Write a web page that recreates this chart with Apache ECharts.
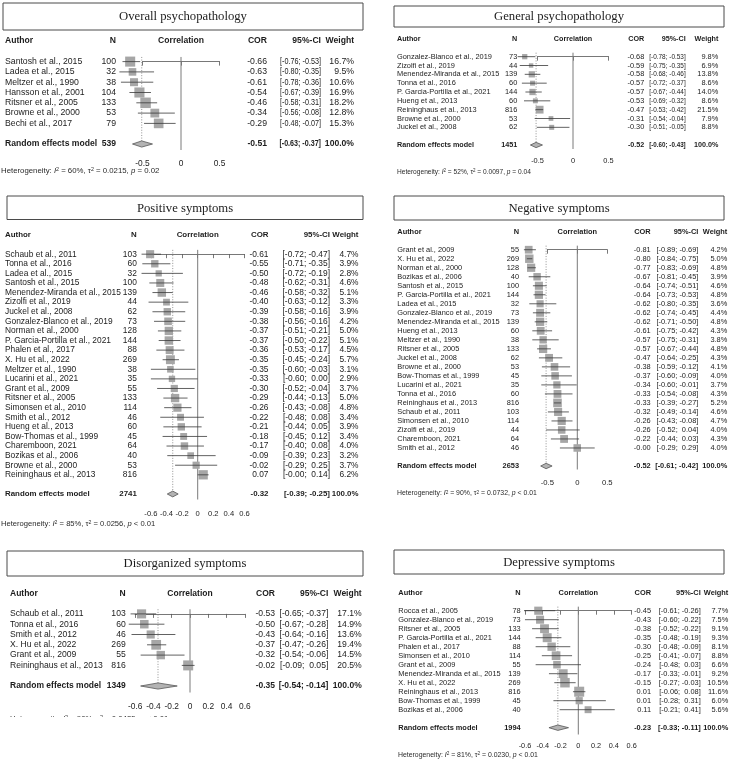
<!DOCTYPE html>
<html>
<head>
<meta charset="utf-8">
<script src="https://cdn.jsdelivr.net/npm/echarts@6.0.0/dist/echarts.min.js"></script>
<style>
  html, body { margin: 0; background: #fff; }
  #chart { width: 730px; height: 761px; }
</style>
</head>
<body>
<div id="chart"></div>
<script>
// tick labels
var ticksHalf = [-0.5, 0, 0.5];
var ticksFine = [-0.6, -0.4, -0.2, 0, 0.2, 0.4, 0.6];

// Overall psychopathology
var overallAuthors = ['Santosh et al., 2015', 'Ladea et al., 2015', 'Meltzer et al., 1990', 'Hansson et al., 2001',
  'Ritsner et al., 2005', 'Browne et al., 2000', 'Bechi et al., 2017'];
var overallN = [100, 32, 38, 104, 133, 53, 79];
var overallCor = [-0.66, -0.63, -0.61, -0.54, -0.46, -0.34, -0.29];
var overallLo = [-0.76, -0.80, -0.78, -0.67, -0.58, -0.56, -0.48];
var overallHi = [-0.53, -0.35, -0.36, -0.39, -0.31, -0.08, -0.07];
var overallWeight = [16.7, 9.5, 10.6, 16.9, 18.2, 12.8, 15.3];
var overallPooled = [539, -0.51, -0.63, -0.37];
var overallHet = ['60%', '0.0215', '= 0.02'];

// General psychopathology
var generalAuthors = ['Gonzalez-Blanco et al., 2019', 'Zizolfi et al., 2019', 'Menendez-Miranda et al., 2015',
  'Tonna et al., 2016', 'P. Garcia-Portilla et al., 2021', 'Hueng et al., 2013', 'Reininghaus et al., 2013',
  'Browne et al., 2000', 'Juckel et al., 2008'];
var generalN = [73, 44, 139, 60, 144, 60, 816, 53, 62];
var generalCor = [-0.68, -0.59, -0.58, -0.57, -0.57, -0.53, -0.47, -0.31, -0.30];
var generalLo = [-0.78, -0.75, -0.68, -0.72, -0.67, -0.69, -0.53, -0.54, -0.51];
var generalHi = [-0.53, -0.35, -0.46, -0.37, -0.44, -0.32, -0.42, -0.04, -0.05];
var generalWeight = [9.8, 6.9, 13.8, 8.6, 14.0, 8.6, 21.5, 7.9, 8.8];
var generalPooled = [1451, -0.52, -0.60, -0.43];
var generalHet = ['52%', '0.0097', '= 0.04'];

// Positive symptoms
var positiveAuthors = ['Schaub et al., 2011', 'Tonna et al., 2016', 'Ladea et al., 2015', 'Santosh et al., 2015',
  'Menendez-Miranda et al., 2015', 'Zizolfi et al., 2019', 'Juckel et al., 2008', 'Gonzalez-Blanco et al., 2019',
  'Norman et al., 2000', 'P. Garcia-Portilla et al., 2021', 'Phalen et al., 2017', 'X. Hu et al., 2022',
  'Meltzer et al., 1990', 'Lucarini et al., 2021', 'Grant et al., 2009', 'Ritsner et al., 2005',
  'Simonsen et al., 2010', 'Smith et al., 2012', 'Hueng et al., 2013', 'Bow-Thomas et al., 1999',
  'Charemboon, 2021', 'Bozikas et al., 2006', 'Browne et al., 2000', 'Reininghaus et al., 2013'];
var positiveN = [103, 60, 32, 100, 139, 44, 62, 73, 128, 144, 88, 269, 38, 35, 55, 133, 114, 46, 60, 45, 64, 40, 53, 816];
var positiveCor = [-0.61, -0.55, -0.50, -0.48, -0.46, -0.40, -0.39, -0.38, -0.37, -0.37, -0.36, -0.35,
  -0.35, -0.33, -0.30, -0.29, -0.26, -0.22, -0.21, -0.18, -0.17, -0.09, -0.02, 0.07];
var positiveLo = [-0.72, -0.71, -0.72, -0.62, -0.58, -0.63, -0.58, -0.56, -0.51, -0.50, -0.53, -0.45,
  -0.60, -0.60, -0.52, -0.44, -0.43, -0.48, -0.44, -0.45, -0.40, -0.39, -0.29, -0.001];
var positiveHi = [-0.47, -0.35, -0.19, -0.31, -0.32, -0.12, -0.16, -0.16, -0.21, -0.22, -0.17, -0.24,
  -0.03, 0.00, -0.04, -0.13, -0.08, 0.08, 0.05, 0.12, 0.08, 0.23, 0.25, 0.14];
var positiveWeight = [4.7, 3.9, 2.8, 4.6, 5.1, 3.3, 3.9, 4.2, 5.0, 5.1, 4.5, 5.7,
  3.1, 2.9, 3.7, 5.0, 4.8, 3.4, 3.9, 3.4, 4.0, 3.2, 3.7, 6.2];
var positivePooled = [2741, -0.32, -0.39, -0.25];
var positiveHet = ['85%', '0.0256', '< 0.01'];

// Negative symptoms
var negativeAuthors = ['Grant et al., 2009', 'X. Hu et al., 2022', 'Norman et al., 2000', 'Bozikas et al., 2006',
  'Santosh et al., 2015', 'P. Garcia-Portilla et al., 2021', 'Ladea et al., 2015', 'Gonzalez-Blanco et al., 2019',
  'Menendez-Miranda et al., 2015', 'Hueng et al., 2013', 'Meltzer et al., 1990', 'Ritsner et al., 2005',
  'Juckel et al., 2008', 'Browne et al., 2000', 'Bow-Thomas et al., 1999', 'Lucarini et al., 2021',
  'Tonna et al., 2016', 'Reininghaus et al., 2013', 'Schaub et al., 2011', 'Simonsen et al., 2010',
  'Zizolfi et al., 2019', 'Charemboon, 2021', 'Smith et al., 2012'];
var negativeN = [55, 269, 128, 40, 100, 144, 32, 73, 139, 60, 38, 133, 62, 53, 45, 35, 60, 816, 103, 114, 44, 64, 46];
var negativeCor = [-0.81, -0.80, -0.77, -0.67, -0.64, -0.64, -0.62, -0.62, -0.62, -0.61, -0.57, -0.57,
  -0.47, -0.38, -0.37, -0.34, -0.33, -0.33, -0.32, -0.26, -0.26, -0.22, -0.001];
var negativeLo = [-0.89, -0.84, -0.83, -0.81, -0.74, -0.73, -0.80, -0.74, -0.71, -0.75, -0.75, -0.67,
  -0.64, -0.59, -0.60, -0.60, -0.54, -0.39, -0.49, -0.43, -0.52, -0.44, -0.29];
var negativeHi = [-0.69, -0.75, -0.69, -0.45, -0.51, -0.53, -0.35, -0.45, -0.50, -0.42, -0.31, -0.44,
  -0.25, -0.12, -0.09, -0.01, -0.08, -0.27, -0.14, -0.08, 0.04, 0.03, 0.29];
var negativeWeight = [4.2, 5.0, 4.8, 3.9, 4.6, 4.8, 3.6, 4.4, 4.8, 4.3, 3.8, 4.8,
  4.3, 4.1, 4.0, 3.7, 4.3, 5.2, 4.6, 4.7, 4.0, 4.3, 4.0];
var negativePooled = [2653, -0.52, -0.61, -0.42];
var negativeHet = ['90%', '0.0732', '< 0.01'];

// Disorganized symptoms
var disorgAuthors = ['Schaub et al., 2011', 'Tonna et al., 2016', 'Smith et al., 2012', 'X. Hu et al., 2022',
  'Grant et al., 2009', 'Reininghaus et al., 2013'];
var disorgN = [103, 60, 46, 269, 55, 816];
var disorgCor = [-0.53, -0.50, -0.43, -0.37, -0.32, -0.02];
var disorgLo = [-0.65, -0.67, -0.64, -0.47, -0.54, -0.09];
var disorgHi = [-0.37, -0.28, -0.16, -0.26, -0.06, 0.05];
var disorgWeight = [17.1, 14.9, 13.6, 19.4, 14.5, 20.5];
var disorgPooled = [1349, -0.35, -0.54, -0.14];
var disorgHet = ['90%', '0.0435', '< 0.01'];

// Depressive symptoms
var depressAuthors = ['Rocca et al., 2005', 'Gonzalez-Blanco et al., 2019', 'Ritsner et al., 2005',
  'P. Garcia-Portilla et al., 2021', 'Phalen et al., 2017', 'Simonsen et al., 2010', 'Grant et al., 2009',
  'Menendez-Miranda et al., 2015', 'X. Hu et al., 2022', 'Reininghaus et al., 2013', 'Bow-Thomas et al., 1999',
  'Bozikas et al., 2006'];
var depressN = [78, 73, 133, 144, 88, 114, 55, 139, 269, 816, 45, 40];
var depressCor = [-0.45, -0.43, -0.38, -0.35, -0.30, -0.25, -0.24, -0.17, -0.15, 0.01, 0.01, 0.11];
var depressLo = [-0.61, -0.60, -0.52, -0.48, -0.48, -0.41, -0.48, -0.33, -0.27, -0.06, -0.28, -0.21];
var depressHi = [-0.26, -0.22, -0.22, -0.19, -0.09, -0.07, 0.03, -0.01, -0.03, 0.08, 0.31, 0.41];
var depressWeight = [7.7, 7.5, 9.1, 9.3, 8.1, 8.8, 6.6, 9.2, 10.5, 11.6, 6.0, 5.6];
var depressPooled = [1994, -0.23, -0.33, -0.11];
var depressHet = ['81%', '0.0230', '< 0.01'];

var FONT = '"Liberation Sans", Arial, sans-serif';
var SERIF = '"Liberation Serif", "Times New Roman", serif';
var INK = '#1c1c1c';
var SQUARE = '#a6a6a6';
var LINE = '#3a3a3a';

// layout of each panel (pixels)
var panels = [
  { title: 'Overall psychopathology', authors: overallAuthors, n: overallN, cor: overallCor, lo: overallLo,
    hi: overallHi, w: overallWeight, pooled: overallPooled, het: overallHet,
    box: [3, 3, 363, 30], headerY: 41, reY: 144, axisY: 150, x0: 181, ppu: 77, ticks: ticksHalf,
    cols: [5, 116, 267, 321, 354], font: 8.7, hfont: 8.6, ciScale: 0.83,
    tickFont: 8.4, tickMargin: 9.5, sq: 10.5, hetPos: [1, 171, 7.8] },
  { title: 'General psychopathology', authors: generalAuthors, n: generalN, cor: generalCor, lo: generalLo,
    hi: generalHi, w: generalWeight, pooled: generalPooled, het: generalHet,
    box: [394, 6, 724, 27], headerY: 39, reY: 145, axisY: 149, x0: 573, ppu: 71, ticks: ticksHalf,
    cols: [397, 517.3, 644.3, 685.7, 718.3], font: 7.4, hfont: 7.2, ciScale: 0.87,
    tickFont: 7.4, tickMargin: 8, sq: 7.8, hetPos: [397, 172, 6.6] },
  { title: 'Positive symptoms', authors: positiveAuthors, n: positiveN, cor: positiveCor, lo: positiveLo,
    hi: positiveHi, w: positiveWeight, pooled: positivePooled, het: positiveHet,
    box: [7, 196, 363, 219.5], headerY: 235, reY: 494, axisY: 499.5, x0: 197.7, ppu: 78, ticks: ticksFine,
    cols: [5, 136.8, 268.5, 330, 358.5], font: 8.4, hfont: 7.9, ciScale: 1,
    tickFont: 7.6, tickMargin: 10.5, sq: 9.3, hetPos: [1, 524, 7.6] },
  { title: 'Negative symptoms', authors: negativeAuthors, n: negativeN, cor: negativeCor, lo: negativeLo,
    hi: negativeHi, w: negativeWeight, pooled: negativePooled, het: negativeHet,
    box: [394, 196, 724, 220], headerY: 231.7, reY: 466, axisY: 469.5, x0: 577.3, ppu: 60, ticks: ticksHalf,
    cols: [397.3, 519, 650.7, 698.3, 727.3], font: 7.4, hfont: 7.4, ciScale: 1,
    tickFont: 7.7, tickMargin: 9.5, sq: 8.6, hetPos: [397, 493.3, 6.9] },
  { title: 'Disorganized symptoms', authors: disorgAuthors, n: disorgN, cor: disorgCor, lo: disorgLo,
    hi: disorgHi, w: disorgWeight, pooled: disorgPooled, het: disorgHet,
    box: [7, 551, 363, 576], headerY: 593.3, reY: 686, axisY: 692.5, x0: 190, ppu: 91.4, ticks: ticksFine,
    cols: [10, 125.7, 275, 328.3, 361.7], font: 8.6, hfont: 8.5, ciScale: 1,
    tickFont: 8.4, tickMargin: 9.8, sq: 10, hetPos: [10, 719, 7.8] },
  { title: 'Depressive symptoms', authors: depressAuthors, n: depressN, cor: depressCor, lo: depressLo,
    hi: depressHi, w: depressWeight, pooled: depressPooled, het: depressHet,
    box: [394, 550, 724, 574], headerY: 592.7, reY: 727.7, axisY: 734.5, x0: 578.3, ppu: 88.9, ticks: ticksFine,
    cols: [398.3, 520.7, 651, 700.7, 728.3], font: 7.4, hfont: 7.4, ciScale: 1,
    tickFont: 7.3, tickMargin: 7.8, sq: 10, hetPos: [398, 755, 6.9] }
];

function fmt(v) { return v.toFixed(2); }
function ciText(lo, hi) { return '[' + fmt(lo) + '; ' + (hi >= 0 ? ' ' : '') + fmt(hi) + ']'; }

function txt(s, x, y, align, bold, size, sx) {
  return {
    type: 'text', x: x, y: y, scaleX: sx || 1,
    style: {
      text: s, x: 0, y: 0, fill: INK, fontSize: size, fontFamily: FONT,
      fontWeight: bold ? 'bold' : 'normal',
      textAlign: align, align: align, textVerticalAlign: 'middle', verticalAlign: 'middle'
    }
  };
}

var grids = [], xAxes = [], yAxes = [], series = [], graphics = [];

panels.forEach(function (p, gi) {
  var nStudies = p.authors.length;
  var reRow = nStudies + 1;
  var rowH = (p.reY - p.headerY) / (reRow + 2);
  var t0 = p.ticks[0], t1 = p.ticks[p.ticks.length - 1];
  var step = Math.round((p.ticks[1] - p.ticks[0]) * 100) / 100;

  grids.push({
    left: p.x0 + t0 * p.ppu, top: p.headerY,
    width: (t1 - t0) * p.ppu, height: p.axisY - p.headerY,
    containLabel: false, outerBoundsMode: 'none'
  });
  xAxes.push({
    gridIndex: gi, type: 'value', min: t0, max: t1, interval: step,
    axisLine: { show: true, lineStyle: { color: '#555', width: 0.8 } },
    axisTick: { show: true, length: 4, lineStyle: { color: '#555', width: 0.8 } },
    splitLine: { show: false },
    axisLabel: {
      fontSize: p.tickFont, fontFamily: FONT, color: INK, margin: p.tickMargin,
      formatter: function (v) { return String(Math.round(v * 10) / 10); }
    }
  });
  yAxes.push({
    gridIndex: gi, type: 'value', inverse: true, show: false,
    min: -2, max: -2 + (p.axisY - p.headerY) / rowH
  });

  var wMax = Math.max.apply(null, p.w);
  var f = p.font, hf = p.hfont;
  var pc = p.pooled;

  // header, reference lines, pooled diamond
  series.push({
    type: 'custom', xAxisIndex: gi, yAxisIndex: gi, silent: true, clip: false,
    data: [[pc[1], reRow, pc[2], pc[3]]],
    renderItem: function (params, api) {
      var row = api.value(1);
      var cs = params.coordSys;
      var hy = api.coord([0, -2])[1];
      var z0 = api.coord([0, -0.45]);
      var d0 = api.coord([api.value(0), -0.45]);
      var d1 = api.coord([api.value(0), row - 0.3]);
      var c = api.coord([api.value(0), row]);
      var top = api.coord([api.value(0), row - 0.3]);
      var bot = api.coord([api.value(0), row + 0.3]);
      var l = api.coord([api.value(2), row]);
      var h = api.coord([api.value(3), row]);
      return {
        type: 'group',
        children: [
          txt('Author', p.cols[0], hy, 'left', true, hf),
          txt('N', p.cols[1], hy, 'right', true, hf),
          txt('Correlation', p.x0, hy, 'center', true, hf),
          txt('COR', p.cols[2], hy, 'right', true, hf),
          txt('95%-CI', p.cols[3], hy, 'right', true, hf),
          txt('Weight', p.cols[4], hy, 'right', true, hf),
          { type: 'line', shape: { x1: z0[0], y1: z0[1], x2: z0[0], y2: cs.y + cs.height },
            style: { stroke: '#7a7a7a', lineWidth: 1 } },
          { type: 'line', shape: { x1: d0[0], y1: d0[1], x2: d1[0], y2: d1[1] },
            style: { stroke: '#777', lineWidth: 0.8, lineDash: [1, 1.6] } },
          { type: 'polygon', shape: { points: [[l[0], c[1]], [c[0], top[1]], [h[0], c[1]], [c[0], bot[1]]] },
            style: { fill: '#b3b3b3', stroke: '#555', lineWidth: 0.8 } },
          txt('Random effects model', p.cols[0], c[1], 'left', true, hf),
          txt(String(pc[0]), p.cols[1], c[1], 'right', true, hf),
          txt(fmt(pc[1]), p.cols[2], c[1], 'right', true, hf),
          txt(ciText(pc[2], pc[3]), p.cols[3], c[1], 'right', true, hf, p.ciScale),
          txt('100.0%', p.cols[4], c[1], 'right', true, hf)
        ]
      };
    }
  });

  // studies
  series.push({
    type: 'custom', xAxisIndex: gi, yAxisIndex: gi, silent: true, clip: false,
    data: p.authors.map(function (a, i) { return [p.cor[i], i, p.lo[i], p.hi[i], p.w[i]]; }),
    renderItem: function (params, api) {
      var i = params.dataIndex;
      var row = api.value(1);
      var c = api.coord([api.value(0), row]);
      var l = api.coord([api.value(2), row]);
      var h = api.coord([api.value(3), row]);
      var s = p.sq * Math.sqrt(api.value(4) / wMax);
      var y = c[1];
      return {
        type: 'group',
        children: [
          { type: 'rect', shape: { x: c[0] - s / 2, y: y - s / 2, width: s, height: s }, style: { fill: SQUARE } },
          { type: 'line', shape: { x1: l[0], y1: y, x2: h[0], y2: y }, style: { stroke: LINE, lineWidth: 0.8 } },
          txt(p.authors[i], p.cols[0], y, 'left', false, f),
          txt(String(p.n[i]), p.cols[1], y, 'right', false, f),
          txt(fmt(p.cor[i]), p.cols[2], y, 'right', false, f),
          txt(ciText(p.lo[i], p.hi[i]), p.cols[3], y, 'right', false, f, p.ciScale),
          txt(p.w[i].toFixed(1) + '%', p.cols[4], y, 'right', false, f)
        ]
      };
    }
  });

  // title box
  var b = p.box;
  graphics.push({
    type: 'rect', shape: { x: b[0], y: b[1], width: b[2] - b[0], height: b[3] - b[1] },
    style: { fill: 'none', stroke: '#4a4a4a', lineWidth: 1 }
  });
  graphics.push({
    type: 'text',
    style: {
      text: p.title, x: (b[0] + b[2]) / 2, y: (b[1] + b[3]) / 2 + 0.5, fill: INK,
      fontSize: 12.7, fontFamily: SERIF,
      textAlign: 'center', align: 'center', textVerticalAlign: 'middle', verticalAlign: 'middle'
    }
  });

  // heterogeneity line
  var hp = p.hetPos, ef = hp[2];
  graphics.push({
    type: 'text',
    style: {
      text: 'Heterogeneity: {i|I}{s|2} = ' + p.het[0] + ', τ{s|2} = ' + p.het[1] + ', {i|p} ' + p.het[2],
      x: hp[0], y: hp[1], fill: '#2a2a2a', fontSize: ef, fontFamily: FONT,
      textAlign: 'left', align: 'left', textVerticalAlign: 'middle', verticalAlign: 'middle',
      rich: {
        i: { fontStyle: 'italic', fontSize: ef, fontFamily: FONT, fill: '#2a2a2a' },
        s: { fontSize: ef * 0.68, fontFamily: FONT, fill: '#2a2a2a', verticalAlign: 'top' }
      }
    }
  });
});

// the disorganized heterogeneity line is cut off in the figure
graphics.push({
  type: 'rect', z: 100, shape: { x: 0, y: 717, width: 365, height: 44 },
  style: { fill: '#fff' }
});

var chart = echarts.init(document.getElementById('chart'));
chart.setOption({
  animation: false,
  backgroundColor: '#fff',
  grid: grids,
  xAxis: xAxes,
  yAxis: yAxes,
  series: series,
  graphic: graphics
});
</script>
</body>
</html>
